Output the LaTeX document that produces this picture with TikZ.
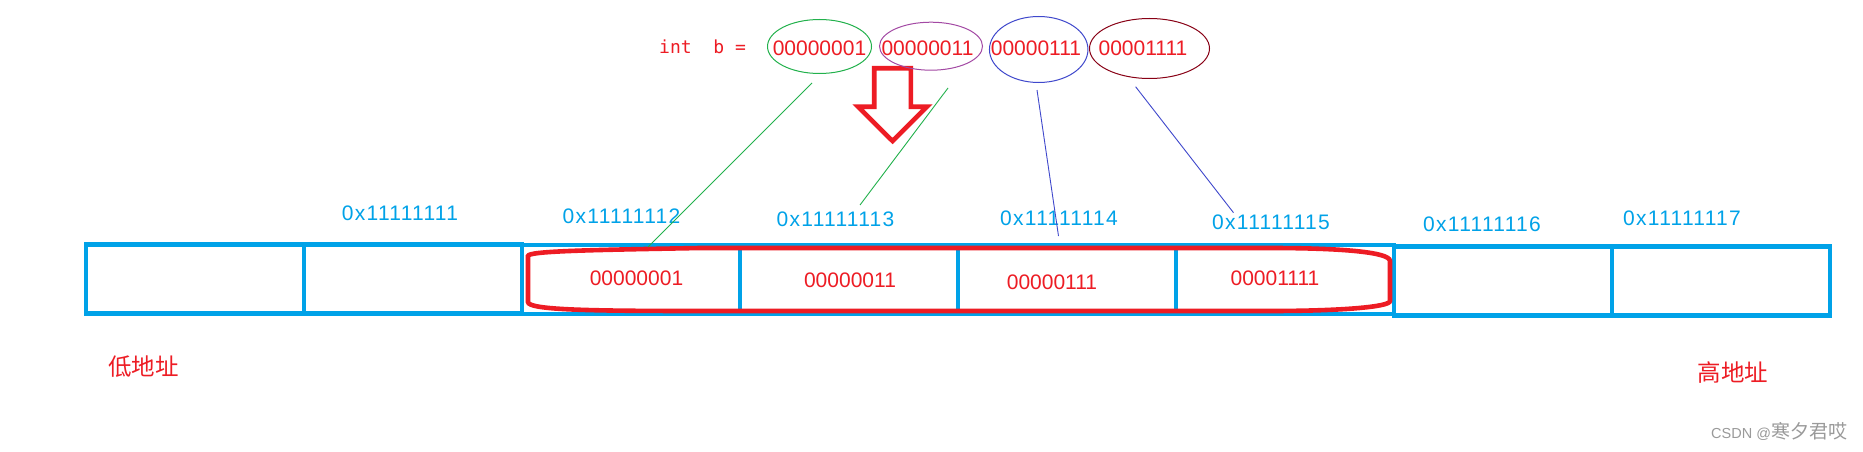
\documentclass[tikz,border=0pt]{standalone}
\usepackage{fontspec}
\setmainfont{Liberation Sans}
\newfontfamily\cjkfont{Noto Sans CJK SC}
\newfontfamily\monofont{DejaVu Sans Mono}
\newfontfamily\addrfont[LetterSpace=6]{Liberation Sans}
\usetikzlibrary{shapes.geometric}
\definecolor{pblue}{HTML}{00A2E8}
\definecolor{pred}{HTML}{ED1C24}
\definecolor{pgreen}{HTML}{22B14C}
\definecolor{ppurple}{HTML}{A349A4}
\definecolor{pindigo}{HTML}{3F48CC}
\definecolor{pdarkred}{HTML}{880015}
\definecolor{wmgray}{HTML}{9A9A9A}
\begin{document}
\begin{tikzpicture}[x=1pt,y=-1pt,
  cell/.style={draw=pblue, line width=4.5pt, minimum width=218pt, minimum height=69pt, inner sep=0pt, outer sep=0pt},
  addr/.style={text=pblue, font=\addrfont\fontsize{21}{25}\selectfont, inner sep=0pt},
  bits/.style={text=pred, font=\fontsize{21}{25}\selectfont, inner sep=0pt},
  oval/.style={ellipse, draw, line width=1pt, inner sep=0pt},
  link/.style={line width=0.9pt},
  cjk/.style={text=pred, font=\cjkfont\fontsize{23.5}{28}\selectfont, inner sep=0pt, anchor=base},
  outline/.style={draw=pred, line width=4.6pt}
]
\useasboundingbox (0,0) rectangle (1863,452);
\fill[white] (0,0) rectangle (1863,452);

% memory cells
\node[cell] (c1) at (195,279.1) {};
\node[cell] (c2) at (413,279.1) {};
\node[cell] (c3) at (631,279.4) {};
\node[cell] (c4) at (849,279.4) {};
\node[cell] (c5) at (1067,279.4) {};
\node[cell] (c6) at (1285,279.4) {};
\node[cell] (c7) at (1503,281) {};
\node[cell] (c8) at (1721,281) {};

% red rounded outline around the 4 bytes
\draw[outline] (528,256) .. controls (528,251) and (590,250) .. (700,248) -- (1270,248)
  .. controls (1340,248) and (1390,252) .. (1390,261) -- (1390,301)
  .. controls (1390,307) and (1340,311) .. (1270,311) -- (700,311)
  .. controls (590,311) and (528,310) .. (528,302) -- cycle;

% big hollow arrow
\draw[outline] (874.2,68.3) -- (910.8,68.3) -- (910.8,106.7) -- (927,106.7) -- (892.5,141)
  -- (858,106.7) -- (874.2,106.7) -- cycle;

% top line
\node[text=pred, font=\monofont\fontsize{18}{20}\selectfont, inner sep=0pt, anchor=base west] (intb) at (659,54) {int\ \ b =};
\node[oval, draw=pgreen, minimum width=104pt, minimum height=54pt] (e1) at (819.5,46.5) {};
\node[oval, draw=ppurple, minimum width=103pt, minimum height=48pt] (e2) at (931,46.2) {};
\node[oval, draw=pindigo, minimum width=98.5pt, minimum height=66pt] (e3) at (1038.7,49.5) {};
\node[oval, draw=pdarkred, minimum width=120pt, minimum height=60pt] (e4) at (1149.5,48.5) {};
\node[bits] (t1) at (819.5,48) {00000001};
\node[bits] (t2) at (927.5,48) {00000011};
\node[bits] (t3) at (1036,48) {00000111};
\node[bits] (t4) at (1143,48) {00001111};

% addresses
\node[addr] (a1) at (400,213) {0x11111111};
\node[addr] (a2) at (621.5,216) {0x11111112};
\node[addr] (a3) at (835.5,219.5) {0x11111113};
\node[addr] (a4) at (1059,218.7) {0x11111114};
\node[addr] (a5) at (1271,222) {0x11111115};
\node[addr] (a6) at (1482,224.7) {0x11111116};
\node[addr] (a7) at (1682,218.7) {0x11111117};

% byte values in cells
\node[bits] (b1) at (636.5,278) {00000001};
\node[bits] (b2) at (850,280) {00000011};
\node[bits] (b3) at (1052,282) {00000111};
\node[bits] (b4) at (1275,278) {00001111};

% connectors
\coordinate (g1s) at (812,83);   \coordinate (g1e) at (648,247);
\coordinate (g2s) at (948,88);   \coordinate (g2e) at (860,205);
\coordinate (l3s) at (1037,90);  \coordinate (l3e) at (1058.5,236);
\coordinate (l4s) at (1135.6,86.7); \coordinate (l4e) at (1233.5,212.7);
\draw[link, pgreen] (g1s) -- (g1e);
\draw[link, pgreen] (g2s) -- (g2e);
\draw[link, pindigo] (l3s) -- (l3e);
\draw[link, pindigo] (l4s) -- (l4e);

% side labels
\node[cjk] (low) at (143.5,375) {低地址};
\node[cjk] (high) at (1733,381.5) {高地址};

% watermark
\node[anchor=base west, inner sep=0pt, text=wmgray] (wm) at (1711,438.3)
  {\fontsize{14.5}{16}\selectfont CSDN @\cjkfont\fontsize{19}{20}\selectfont 寒夕君哎};
\end{tikzpicture}
\end{document}
